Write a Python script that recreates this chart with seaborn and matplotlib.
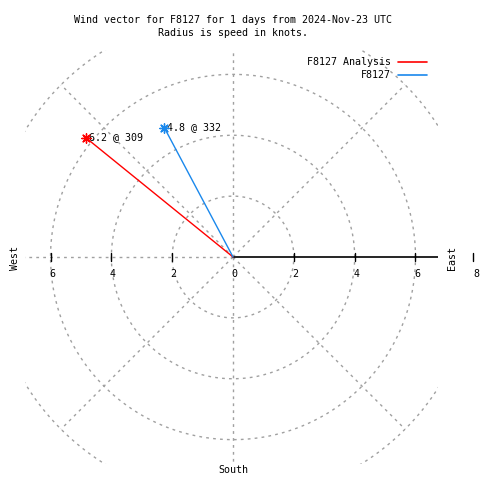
import numpy as np
import pandas as pd
import matplotlib
matplotlib.use("Agg")
import matplotlib.pyplot as plt
import seaborn as sns
from matplotlib.lines import Line2D

# ---- data ----
series = ["F8127 Analysis", "F8127"]
speeds = [6.2, 4.8]          # knots
directions = [309, 332]      # degrees (compass)
colors = ["#ff0000", "#1a88ec"]
grid_radii = [2, 4, 6, 8]
tick_values = [-6, -4, -2, 0, 2, 4, 6]
title_lines = ["Wind vector for F8127 for 1 days from 2024-Nov-23 UTC",
               "Radius is speed in knots."]

sns.set_style("white")
plt.rcParams["font.family"] = ["DejaVu Sans Mono"]
plt.rcParams["text.color"] = "black"
FS = 7.2

fig = plt.figure(figsize=(4.8, 4.8), dpi=100)
L, R, T, B = 25, 438, 50, 464
ax = fig.add_axes([L / 480, 1 - B / 480, (R - L) / 480, (B - T) / 480])
ax.set_xlim(-6.84, 6.74)
ax.set_ylim(-6.8, 6.8)
ax.axis("off")

gcol = "#a0a0a0"
dash = (0, (2, 3))
th = np.linspace(0, 2 * np.pi, 400)
for r in grid_radii:
    ax.plot(r * np.cos(th), r * np.sin(th), color=gcol, lw=1, ls=dash, zorder=1)
for a in range(0, 360, 45):
    if a == 0:
        continue
    ang = np.deg2rad(a)
    ax.plot([0, 8 * np.cos(ang)], [0, 8 * np.sin(ang)], color=gcol, lw=1, ls=dash, zorder=1)

# r axis (east)
ax.plot([0, 8], [0, 0], color="black", lw=1.2, zorder=2)
tick_h = 4 / 30.4
for v in tick_values:
    if v != 0:
        ax.plot([v, v], [-tick_h, tick_h], color="black", lw=1, zorder=2)
    ax.text(v + 0.05, -0.55, str(abs(v)), ha="center", va="center", fontsize=FS)
ax.plot([7.9, 7.9], [-tick_h, tick_h], color="black", lw=1, clip_on=False)
ax.text(8.0, -0.55, "8", ha="center", va="center", fontsize=FS, clip_on=False)

# vectors
rad = np.deg2rad(90 - np.array(directions))
ex = np.array(speeds) * np.cos(rad)
ey = np.array(speeds) * np.sin(rad)
rows = []
for s, x, y in zip(series, ex, ey):
    rows.append({"series": s, "x": 0.0, "y": 0.0, "pt": 0})
    rows.append({"series": s, "x": x, "y": y, "pt": 1})
df = pd.DataFrame(rows)
pal = dict(zip(series, colors))
sns.lineplot(data=df, x="x", y="y", hue="series", palette=pal, sort=False,
             estimator=None, legend=False, lw=1, ax=ax, zorder=3)
ends = df[df.pt == 1]
for s, c in zip(series, colors):
    d = ends[ends.series == s]
    ax.scatter(d.x, d.y, marker=(8, 2, 0), s=45, color=c, linewidths=1, zorder=4)
    for _, row in d.iterrows():
        sp = speeds[series.index(s)]
        dr = directions[series.index(s)]
        ax.annotate(f"{sp} @ {dr}", (row.x, row.y), xytext=(1.5, 0.5),
                    textcoords="offset points", ha="left", va="center", fontsize=FS)

ax.set_xlabel("")
ax.set_ylabel("")

# title
fig.text(233 / 480, 1 - 20 / 480, title_lines[0], ha="center", va="center", fontsize=FS)
fig.text(233 / 480, 1 - 33 / 480, title_lines[1], ha="center", va="center", fontsize=FS)

# compass labels
fig.text(15 / 480, 1 - 258 / 480, "West", rotation=90, ha="center", va="center", fontsize=FS)
fig.text(452 / 480, 1 - 258 / 480, "East", rotation=90, ha="center", va="center", fontsize=FS)
fig.text(233 / 480, 1 - 470 / 480, "South", ha="center", va="center", fontsize=FS)

# legend
for i, (s, c) in enumerate(zip(series, colors)):
    yy = 1 - (62 + 13 * i) / 480
    fig.text(391 / 480, yy, s, ha="right", va="center", fontsize=FS)
    fig.add_artist(Line2D([398 / 480, 427 / 480], [yy, yy], color=c, lw=1.2,
                          transform=fig.transFigure))

fig.savefig("out.png", dpi=100)
